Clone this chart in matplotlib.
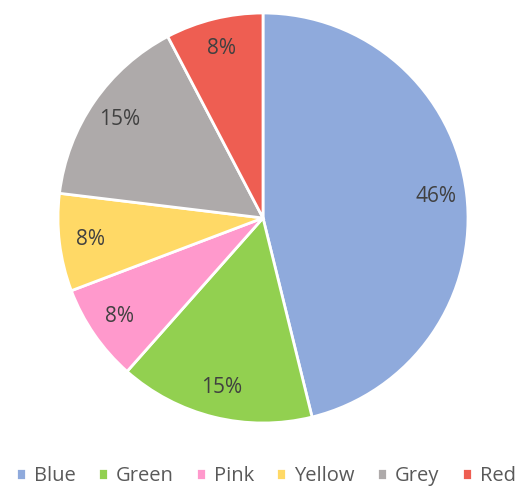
import matplotlib.pyplot as plt

labels = ['Blue', 'Green', 'Pink', 'Yellow', 'Grey', 'Red']
values = [6, 2, 1, 1, 2, 1]
colors = ['#8FAADC', '#92D050', '#FF99CC', '#FFD966', '#AEAAAA', '#EE5E52']

plt.rcParams['font.family'] = ['Open Sans', 'DejaVu Sans']

fig = plt.figure(figsize=(5.21, 4.88), dpi=100)
# square axes so the pie radius is ~205 px around (263, 218)
ax = fig.add_axes([(263 - 205) / 521, (488 - 218 - 205) / 488, 410 / 521, 410 / 488])

wedges, texts, autotexts = ax.pie(values, colors=colors, startangle=90, counterclock=False,
                                  autopct=lambda p: '{:.0f}%'.format(p), pctdistance=0.85,
                                  wedgeprops=dict(edgecolor='white', linewidth=2),
                                  textprops=dict(color='#404040', fontsize=15))

ax.set_xlim(-1, 1)
ax.set_ylim(-1, 1)
ax.set_aspect('equal')

fig.legend(wedges, labels, loc='center', bbox_to_anchor=(0.51, 1 - 476 / 488), ncol=6,
           frameon=False, handlelength=0.5, handleheight=0.5, handletextpad=0.4,
           columnspacing=1.1, fontsize=14.5, labelcolor='#595959')

fig.savefig('out.png', dpi=100)
